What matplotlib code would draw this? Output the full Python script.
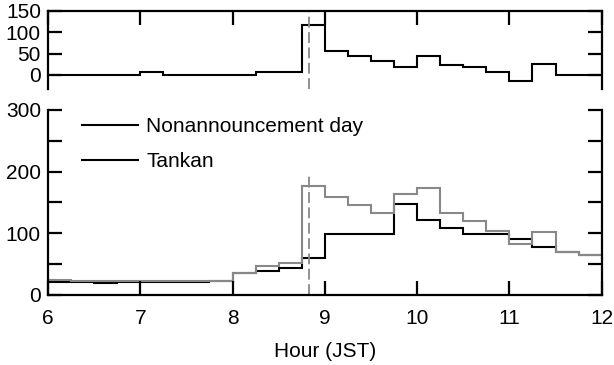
import matplotlib
matplotlib.use('Agg')
import matplotlib.pyplot as plt
from matplotlib.lines import Line2D
import numpy as np

plt.rcParams['font.family'] = ['Liberation Sans', 'DejaVu Sans']
plt.rcParams['font.size'] = 15

# 15-minute bins from 6:00 to 12:00 JST
edges = np.linspace(6, 12, 25)

# Tankan day minus nonannouncement day
diff = [0, 0, 0, 0, 6, 0, 0, 0, 0, 6, 6, 118,
        56, 44, 33, 18, 44, 23, 18, 6, -15, 26, 0, 0]

nonannouncement = [21, 21, 20, 21, 21, 21, 21, 23, 35, 39, 43, 60,
                   99, 99, 99, 148, 122, 109, 99, 99, 91, 78, 69, 65]
tankan = [24, 22, 23, 22, 23, 23, 23, 23, 35, 47, 51, 177,
          159, 146, 133, 164, 173, 133, 120, 103, 82, 102, 69, 65]

release_time = 8 + 50 / 60
labels = ['Nonannouncement day', 'Tankan']

fig = plt.figure(figsize=(6.14, 3.65), dpi=100)
ax1 = fig.add_axes([0.078, 0.756, 0.902, 0.214])
ax2 = fig.add_axes([0.078, 0.192, 0.902, 0.507])

lw = 1.5
grey = '#888888'

# upper panel: difference
ax1.stairs(diff, edges, color='black', lw=lw, baseline=None)
ax1.axvline(release_time, color=grey, lw=1.3, ls=(0, (6, 2.5)))
ax1.set_xlim(6, 12)
ax1.set_ylim(-33, 150)
ax1.set_yticks([0, 50, 100, 150])
ax1.set_xticks([6, 7, 8, 9, 10, 11, 12])
ax1.spines['bottom'].set_visible(False)
ax1.tick_params(axis='x', which='both', direction='in', top=True, bottom=False,
                labelbottom=False, length=10, width=1.6)
ax1.tick_params(axis='y', direction='in', left=True, right=True, length=10,
                width=1.6, pad=5)

# lower panel: volumes
ax2.stairs(nonannouncement, edges, color='black', lw=lw, baseline=None)
ax2.stairs(tankan, edges, color=grey, lw=lw, baseline=None)
ax2.axvline(release_time, ymax=0.66, color=grey, lw=1.3, ls=(0, (6, 2.5)))
ax2.set_xlim(6, 12)
ax2.set_ylim(0, 300)
ax2.set_yticks([0, 100, 200, 300])
ax2.set_yticks([50, 150, 250], minor=True)
ax2.set_xticks([6, 7, 8, 9, 10, 11, 12])
ax2.spines['top'].set_visible(False)
ax2.tick_params(axis='x', direction='in', top=False, bottom=True, length=10,
                width=1.6, pad=10)
ax2.tick_params(axis='y', which='both', direction='in', left=True, right=True,
                length=10, width=1.6, pad=5)
ax2.set_xlabel('Hour (JST)', labelpad=10)

for ax in (ax1, ax2):
    for s in ax.spines.values():
        s.set_linewidth(1.6)

handles = [Line2D([], [], color='black', lw=lw) for _ in labels]
ax2.legend(handles, labels, loc='upper left', bbox_to_anchor=(0.046, 1.005),
           frameon=False, handlelength=2.7, handletextpad=0.4,
           labelspacing=0.75, borderaxespad=0)

fig.savefig('out.png', dpi=100)
